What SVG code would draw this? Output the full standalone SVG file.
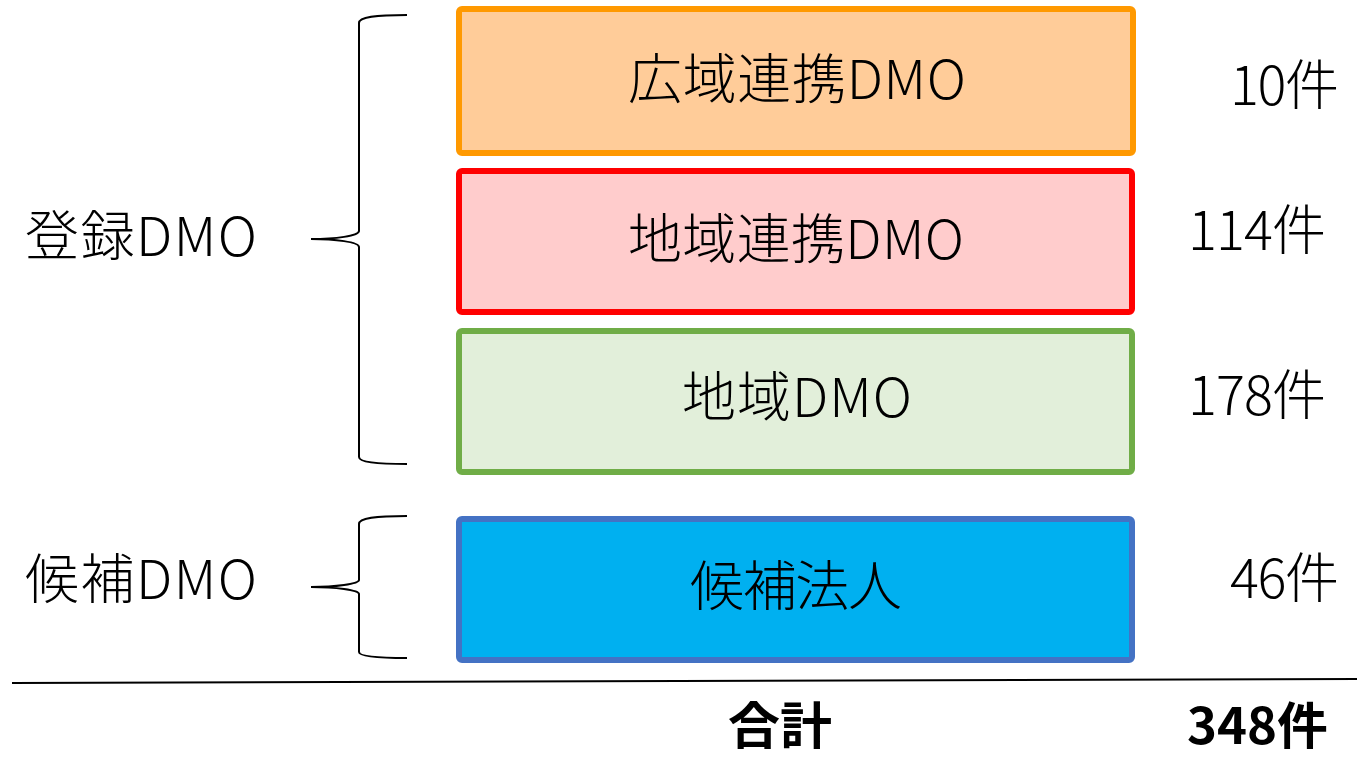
<svg xmlns="http://www.w3.org/2000/svg" width="1357" height="760" viewBox="0 0 1357 760">
<style>
.t{font-family:"Noto Sans CJK JP","Noto Sans",sans-serif;font-size:54px;font-weight:300;fill:#000}
.b{font-family:"Noto Sans CJK JP","Noto Sans",sans-serif;font-size:50px;font-weight:700;fill:#000}
.box{stroke-width:6}
.br{fill:none;stroke:#000;stroke-width:2}
</style>
<rect width="1357" height="760" fill="#fff"/>
<g id="connectors">
<path class="br" d="M407,15 C375,15 359,17 359,23 L359,231 C359,236 335,239 311,239 C335,239 359,242 359,247 L359,457 C359,462 375,464 407,464"/>
<path class="br" d="M407,516 C375,516 359,518 359,524 L359,580 C359,584 335,587 311,587 C335,587 359,590 359,594 L359,652 C359,656 375,658 407,658"/>
<line x1="12" y1="683" x2="1357" y2="679" stroke="#000" stroke-width="2"/>
</g>
<g id="n1"><rect class="box" x="459" y="9" width="674" height="144" rx="3" fill="#FFCC99" stroke="#FF9900"/><text class="t" x="628" y="99" textLength="338" lengthAdjust="spacing">広域連携DMO</text></g>
<g id="n2"><rect class="box" x="459" y="171" width="673" height="141" rx="3" fill="#FFCCCC" stroke="#FF0000"/><text class="t" x="628" y="259" textLength="336" lengthAdjust="spacing">地域連携DMO</text></g>
<g id="n3"><rect class="box" x="459" y="331" width="673" height="141" rx="3" fill="#E2EFDA" stroke="#70AD47"/><text class="t" x="682" y="417" textLength="230" lengthAdjust="spacing">地域DMO</text></g>
<g id="n4"><rect class="box" x="459" y="519" width="673" height="141" rx="3" fill="#00B0F0" stroke="#4472C4"/><text class="t" x="690" y="606" textLength="212" lengthAdjust="spacing">候補法人</text></g>
<g id="l1"><text class="t" x="25" y="256" textLength="232" lengthAdjust="spacing">登録DMO</text></g>
<g id="l2"><text class="t" x="25" y="599" textLength="232" lengthAdjust="spacing">候補DMO</text></g>
<g id="c1"><text class="t" x="1230" y="105" textLength="109" lengthAdjust="spacing">10件</text></g>
<g id="c2"><text class="t" x="1188" y="250" textLength="138" lengthAdjust="spacing">114件</text></g>
<g id="c3"><text class="t" x="1188" y="415" textLength="138" lengthAdjust="spacing">178件</text></g>
<g id="c4"><text class="t" x="1230" y="598" textLength="109" lengthAdjust="spacing">46件</text></g>
<g id="total"><text class="b" x="728" y="744" textLength="104" lengthAdjust="spacingAndGlyphs">合計</text><text class="b" x="1187" y="744" textLength="141" lengthAdjust="spacingAndGlyphs">348件</text></g>
</svg>
